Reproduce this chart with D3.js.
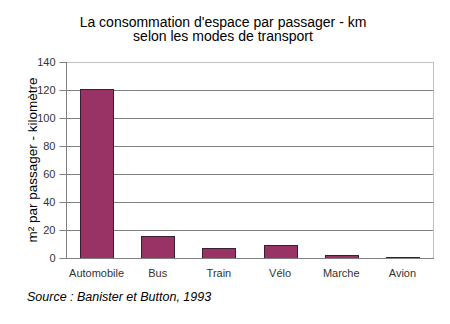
<!DOCTYPE html>
<html><head><meta charset="utf-8">
<script src="https://cdn.jsdelivr.net/npm/d3@7"></script>
<style>body{margin:0;background:#fff}svg{display:block;font-family:"Liberation Sans",Arial,sans-serif}</style>
</head><body>
<svg id="c" width="450" height="324"></svg>
<script>
const categories = ["Automobile","Bus","Train","Vélo","Marche","Avion"];
const values = [121, 16, 7, 9, 2, 1];
const yTicks = [0,20,40,60,80,100,120,140];
const titleLines = ["La consommation d'espace par passager - km","selon les modes de transport"];
const yTitle = "m² par passager - kilomètre";
const sourceText = "Source : Banister et Button, 1993";

const svg = d3.select("#c");
const m = {l:66, r:433, t:62, b:258};
const x = d3.scaleBand().domain(categories).range([m.l, m.r]).paddingInner(0.46).paddingOuter(0.23);
const y = d3.scaleLinear().domain([0,140]).range([m.b, m.t]);

// plot border
svg.append("rect").attr("x", m.l+0.5).attr("y", m.t+0.5).attr("width", m.r-m.l).attr("height", m.b-m.t)
  .attr("fill","none").attr("stroke","#c0c0c0");

// gridlines
svg.append("g").selectAll("line").data(yTicks.filter(d=>d>0&&d<140)).join("line")
  .attr("x1", m.l).attr("x2", m.r).attr("y1", d=>Math.round(y(d))+0.5).attr("y2", d=>Math.round(y(d))+0.5)
  .attr("stroke","#808080");

// bars
svg.append("g").selectAll("rect").data(values).join("rect")
  .attr("x",(d,i)=>Math.round(x(categories[i]))+0.5).attr("y",d=>Math.round(y(d))+0.5)
  .attr("width", Math.round(x.bandwidth())).attr("height", d=>Math.round(y(0))-Math.round(y(d)))
  .attr("fill","#993366").attr("stroke","#3a2030").attr("stroke-width",1);

// y axis
const ya = d3.axisLeft(y).tickValues(yTicks).tickSize(7).tickPadding(4);
const gy = svg.append("g").attr("transform",`translate(${m.l+0.5},0)`).call(ya);
gy.select(".domain").attr("stroke","#808080").attr("d",`M0,${m.t}V${m.b}`);
gy.selectAll(".tick line").attr("stroke","#808080");
gy.selectAll(".tick text").attr("font-size",11).attr("fill","#333").attr("font-family","Liberation Sans, Arial, sans-serif");

// x axis
const xa = d3.axisBottom(x).tickSize(0).tickPadding(11);
const gx = svg.append("g").attr("transform",`translate(0,${m.b+0.5})`).call(xa);
gx.select(".domain").attr("stroke","#808080").attr("d",`M${m.l},0H${m.r+1}`);
gx.selectAll(".tick text").attr("font-size",11).attr("fill","#333").attr("font-family","Liberation Sans, Arial, sans-serif");

// title
svg.append("text").attr("x",223).attr("y",26.5).attr("text-anchor","middle").attr("font-size",14)
  .selectAll("tspan").data(titleLines).join("tspan").attr("x",223).attr("dy",(d,i)=>i?14.5:0).text(d=>d);

// y title
svg.append("text").attr("transform",`translate(37,${(m.t+m.b)/2}) rotate(-90)`).attr("text-anchor","middle")
  .attr("font-size",13.5).text(yTitle);

// source
svg.append("text").attr("x",27).attr("y",301).attr("font-size",12.5).attr("font-style","italic").text(sourceText);
</script>
</body></html>
